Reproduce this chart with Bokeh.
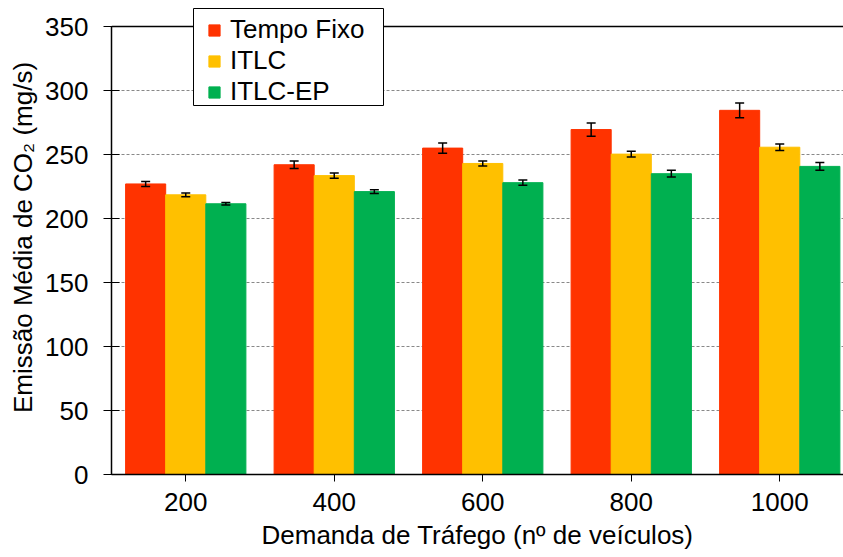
from bokeh.plotting import figure
from bokeh.models import (ColumnDataSource, Range1d, FixedTicker, Whisker, Span,
                          TeeHead, Legend, LegendItem, BoxAnnotation)
from bokeh.embed import file_html
from bokeh.resources import INLINE

categories = ["200", "400", "600", "800", "1000"]
series_names = ["Tempo Fixo", "ITLC", "ITLC-EP"]
tempo_fixo = [227, 242, 255, 269.5, 284.5]
itlc = [218.5, 233.5, 243, 250.3, 255.7]
itlc_ep = [211.5, 221, 228, 235, 240.7]
tempo_fixo_err = [2, 3, 4, 5.2, 5.7]
itlc_err = [1.5, 2, 2, 2.2, 2.5]
itlc_ep_err = [1, 1.5, 2, 2.6, 3]
colors = ["#FF3300", "#FFC000", "#00B050"]
y_ticks = [0, 50, 100, 150, 200, 250, 300, 350]
y_max = 350

FONT = "Liberation Sans"

# layout constants (pixels)
W, H = 843, 557
LEFT, BOTTOM_BORDER = 111, 83
FRAME_H = H - BOTTOM_BORDER          # 474, frame reaches the top of the page
PLOT_TOP = 26                        # pixel row of the 350 line
X0, CAT_PX = 0.5, 148.5
X1 = X0 + (W - LEFT) / CAT_PX
Y1 = y_max * FRAME_H / (FRAME_H - PLOT_TOP)

def px_to_x(px):
    return X0 + (px - LEFT) / CAT_PX

def py_to_y(py):
    return (FRAME_H - py) * Y1 / FRAME_H

p = figure(width=W, height=H, output_backend="svg", toolbar_location=None,
           x_range=Range1d(X0, X1), y_range=Range1d(0, Y1),
           min_border_left=LEFT, min_border_right=0, min_border_top=0,
           min_border_bottom=BOTTOM_BORDER)
p.outline_line_color = None
p.background_fill_color = "white"
p.border_fill_color = "white"

pos = [i + 1 for i in range(len(categories))]
bw = 0.27
offsets = [-bw, 0, bw]
all_vals = [tempo_fixo, itlc, itlc_ep]
all_errs = [tempo_fixo_err, itlc_err, itlc_ep_err]

items = []
for name, vals, errs, col, off in zip(series_names, all_vals, all_errs, colors, offsets):
    src = ColumnDataSource(dict(
        x=[q + off for q in pos], top=vals,
        upper=[v + e for v, e in zip(vals, errs)],
        lower=[v - e for v, e in zip(vals, errs)]))
    r = p.vbar(x="x", top="top", width=bw, source=src, fill_color=col,
               line_color=col, line_width=1)
    items.append(LegendItem(label=name, renderers=[r]))
    w = Whisker(base="x", upper="upper", lower="lower", source=src,
                line_color="black", line_width=1.5,
                upper_head=TeeHead(size=9, line_color="black", line_width=1.5),
                lower_head=TeeHead(size=9, line_color="black", line_width=1.5))
    w.level = "overlay"
    p.add_layout(w)

# axes
p.xaxis.ticker = FixedTicker(ticks=pos)
p.xaxis.major_label_overrides = {q: c for q, c in zip(pos, categories)}
p.yaxis.ticker = FixedTicker(ticks=y_ticks)
p.yaxis.bounds = (0, y_max)
for ax in (p.xaxis[0], p.yaxis[0]):
    ax.axis_line_color = "black"
    ax.axis_line_width = 1.5
    ax.major_tick_line_color = "black"
    ax.major_tick_line_width = 1
    ax.minor_tick_line_color = None
    ax.major_label_text_font = FONT
    ax.major_label_text_font_size = "26px"
    ax.major_label_text_color = "black"
    ax.axis_label_text_font = FONT
    ax.axis_label_text_font_size = "26px"
    ax.axis_label_text_font_style = "normal"
    ax.axis_label_text_color = "black"
p.xaxis.major_tick_out = 7
p.xaxis.major_tick_in = 0
p.yaxis.major_tick_out = 8
p.yaxis.major_tick_in = 8
p.yaxis.major_label_standoff = 15
p.xaxis.major_label_standoff = 11
p.yaxis.axis_label = "Emissão Média de CO₂ (mg/s)"
p.xaxis.axis_label = "Demanda de Tráfego (nº de veículos)"
p.yaxis.axis_label_standoff = 4
p.xaxis.axis_label_standoff = 6

p.xgrid.grid_line_color = None
p.ygrid.grid_line_color = "#888888"
p.ygrid.grid_line_dash = "3 2"
p.ygrid.grid_line_width = 1

top_line = Span(location=y_max, dimension="width", line_color="black", line_width=1.5)
p.add_layout(top_line)

# legend frame (box drawn separately so the inner spacing can match)
box = BoxAnnotation(left=px_to_x(193), right=px_to_x(383),
                    top=py_to_y(8), bottom=py_to_y(105),
                    fill_color="white", fill_alpha=1,
                    line_color="black", line_width=1, line_alpha=1)
p.add_layout(box)

legend = Legend(items=items, location=(207 - LEFT, FRAME_H - 107))
legend.label_text_font = FONT
legend.label_text_font_size = "26px"
legend.label_text_color = "black"
legend.glyph_width = 14
legend.glyph_height = 14
legend.label_standoff = 9
legend.padding = 2
legend.spacing = 0
legend.margin = 0
legend.border_line_color = None
legend.background_fill_alpha = 0
p.add_layout(legend, "center")

open("out.html", "w").write(file_html(p, INLINE))
